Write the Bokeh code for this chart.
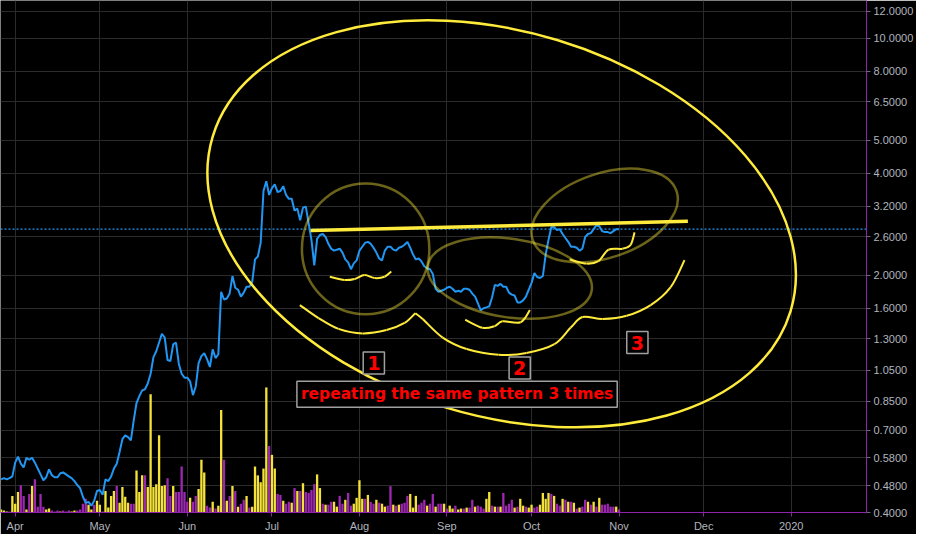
import numpy as np
import pandas as pd
from bokeh.plotting import figure
from bokeh.models import (Range1d, LinearScale, FixedTicker, NumeralTickFormatter,
                          Span, Label, ColumnDataSource)
from bokeh.embed import file_html
from bokeh.resources import INLINE

# daily closes, starting 2019-03-27
START = "2019-03-27"
price = [
    0.501, 0.505, 0.501, 0.505, 0.511, 0.561, 0.584, 0.557, 0.543, 0.580,
    0.572, 0.580, 0.561, 0.539, 0.518, 0.498, 0.508, 0.536, 0.515, 0.508,
    0.508, 0.522, 0.525, 0.518, 0.511, 0.505, 0.495, 0.482, 0.472, 0.445,
    0.427, 0.430, 0.419, 0.433, 0.463, 0.466, 0.451, 0.501, 0.495, 0.511,
    0.539, 0.557, 0.603, 0.658, 0.675, 0.667, 0.653, 0.746, 0.841, 0.881,
    0.916, 0.923, 0.960, 1.026, 1.148, 1.195, 1.268, 1.346, 1.311, 1.126,
    1.118, 1.252, 1.268, 1.096, 1.026, 0.999, 0.999, 0.973, 0.887, 0.941,
    1.103, 1.156, 1.179, 1.133, 1.074, 1.211, 1.141, 1.171, 1.790, 1.698,
    1.709, 1.767, 1.991, 1.839, 1.814, 1.732, 1.779, 1.851, 1.851, 1.913,
    2.229, 2.273, 2.494, 3.545, 3.790, 3.452, 3.616, 3.713, 3.521, 3.545,
    3.664, 3.452, 3.362, 3.362, 3.105, 3.146, 2.905, 3.167, 3.188, 2.848,
    2.545, 2.140, 2.561, 2.630, 2.648, 2.596, 2.478, 2.397, 2.365, 2.381,
    2.397, 2.334, 2.229, 2.185, 2.085, 2.170, 2.214, 2.365, 2.429, 2.494,
    2.511, 2.478, 2.413, 2.334, 2.243, 2.214, 2.365, 2.429, 2.429, 2.381,
    2.365, 2.413, 2.429, 2.462, 2.511, 2.413, 2.304, 2.229, 2.243, 2.199,
    2.127, 2.099, 2.085, 2.018, 1.826, 1.790, 1.802, 1.814, 1.839, 1.851,
    1.826, 1.790, 1.802, 1.790, 1.826, 1.826, 1.814, 1.767, 1.732, 1.654,
    1.578, 1.600, 1.610, 1.621, 1.721, 1.875, 1.863, 1.888, 1.851, 1.851,
    1.779, 1.755, 1.744, 1.665, 1.665, 1.687, 1.732, 1.814, 1.901, 2.031,
    1.978, 1.965, 1.991, 2.304, 2.545, 2.774, 2.774, 2.719, 2.737, 2.648,
    2.578, 2.511, 2.429, 2.429, 2.413, 2.365, 2.397, 2.596, 2.648, 2.665,
    2.737, 2.811, 2.792, 2.701, 2.683, 2.683, 2.665, 2.701, 2.737, 2.736,
]

volume = [
    3, 2, 1, 1, 17, 9, 21, 28, 17, 3,
    19, 27, 34, 6, 19, 6, 3, 4, 2, 1,
    2, 1, 2, 1, 2, 1, 2, 2, 3, 9,
    14, 8, 3, 8, 12, 8, 1, 22, 5, 17,
    22, 27, 10, 26, 16, 10, 9, 9, 43, 21,
    38, 38, 26, 121, 26, 29, 79, 27, 28, 35,
    17, 27, 21, 21, 47, 21, 11, 15, 11, 17,
    24, 54, 41, 7, 5, 11, 4, 7, 105, 54,
    12, 17, 27, 22, 6, 9, 13, 17, 5, 6,
    47, 38, 31, 45, 128, 68, 59, 45, 19, 18,
    12, 9, 11, 10, 25, 22, 22, 30,
    21, 20, 23, 29, 39, 25, 9, 8, 8, 11,
    11, 6, 17, 9, 13, 20, 7, 9, 15, 33,
    14, 14, 18, 11, 9, 13, 10, 9, 6, 7,
    27, 8, 7, 8, 9, 10, 17, 19, 5, 17,
    8, 10, 13, 7, 9, 19, 6, 9, 9, 9,
    4, 7, 4, 7, 3, 4, 4, 5, 5, 13,
    6, 7, 6, 4, 14, 21, 7, 6, 6, 6,
    20, 7, 9, 13, 5, 6, 14, 7, 6, 5,
    8, 5, 6, 8, 20, 14, 20, 19, 17, 9,
    7, 14, 13, 11, 11, 10, 4, 5, 6, 13,
    11, 8, 11, 6, 15, 8, 8, 9, 6, 6,
    6, 3,
]

# Y = yellow bar, P = purple bar
vol_side = (
    "YYYPYYYPPY" "PYPPPPYYPP" "PYPPPYYPPP" "PYYPYYPYYY" "YPYYYYPPYY"
    "YPYYYYYYYP" "PYPPPPPYPP" "YYYPPYPYYP" "YPYPYPPYPY" "YYYYYPYYPP"
    "YPPYPYPY"
    "PPPPYYPYPP" "YYPPYPPYYY" "YPYPPYPYYP" "PYPYPPPYYY" "PPPYPPYPPY"
    "PYYPYYPYPP" "YPPPYYPYPY" "PPPPYPYYPY" "YPPYYYYPYP" "PYPYPYPYPP"
    "YPYPYPPPPP" "YP"
)

y_ticks = [0.4, 0.48, 0.58, 0.7, 0.85, 1.05, 1.3, 1.6, 2.0, 2.6,
           3.2, 4.0, 5.0, 6.5, 8.0, 10.0, 12.0]
month_ticks = ["2019-04-01", "2019-05-01", "2019-06-01", "2019-07-01", "2019-08-01",
               "2019-09-01", "2019-10-01", "2019-11-01", "2019-12-01", "2020-01-01"]
month_labels = ["Apr", "May", "Jun", "Jul", "Aug", "Sep", "Oct", "Nov", "Dec", "2020"]
last_price = 2.736

# drawings (days after 2019-04-01, price)
trend_days, trend_price = [104.7, 238.4], [2.713, 2.886]
arc_a = ([111.5, 116.7, 120.3, 123.8, 127.4, 130.9, 133.3],
         [1.981, 1.938, 1.952, 2.004, 1.964, 1.981, 2.054])
arc_b1 = ([100.9, 107.5, 114.6, 123.1, 131.6, 138.0, 141.8],
          [1.635, 1.497, 1.391, 1.349, 1.380, 1.448, 1.547])
arc_b2 = ([141.8, 144.4, 151.5, 160.0, 171.3, 181.2, 191.1, 196.8, 201.1, 208.2,
           216.7, 225.2, 232.3, 237.2],
          [1.547, 1.487, 1.311, 1.213, 1.166, 1.181, 1.254, 1.401, 1.507, 1.487,
           1.520, 1.635, 1.847, 2.218])
arc_c = ([159.5, 165.6, 169.9, 172.7, 179.1, 182.4],
         [1.480, 1.401, 1.417, 1.464, 1.455, 1.581])
arc_d = ([196.5, 202.5, 206.7, 210.3, 215.2, 218.1, 219.5],
         [2.228, 2.166, 2.203, 2.381, 2.397, 2.461, 2.678])

DAY0 = pd.Timestamp("2019-04-01")
MS_DAY = 86400000.0


def at(d):
    return (DAY0 + pd.Timedelta(days=d)).value / 1e6


def bezier_pieces(days, prices):
    xs = [at(d) for d in days]
    ys = [np.log10(v) for v in prices]
    px = [xs[0]] + xs + [xs[-1]]
    py = [ys[0]] + ys + [ys[-1]]
    out = {k: [] for k in ("x0", "y0", "x1", "y1", "cx0", "cy0", "cx1", "cy1")}
    for j in range(len(xs) - 1):
        a, b = j + 1, j + 2
        out["x0"].append(px[a])
        out["y0"].append(10 ** py[a])
        out["x1"].append(px[b])
        out["y1"].append(10 ** py[b])
        out["cx0"].append(px[a] + (px[b] - px[a - 1]) / 6)
        out["cy0"].append(10 ** (py[a] + (py[b] - py[a - 1]) / 6))
        out["cx1"].append(px[b] - (px[b + 1] - px[a]) / 6)
        out["cy1"].append(10 ** (py[b] - (py[b + 1] - py[a]) / 6))
    return ColumnDataSource(out)


dates = pd.date_range(START, periods=len(price), freq="D")
colors = ["#f4e23a" if s == "Y" else "#9c27b0" for s in vol_side]

GRID = "#2b2b2b"
AXIS = "#8e24aa"
TXT = "#b2b5be"
YEL = "#ffeb3b"
SX, SY = 0.98, 0.97

p = figure(width=916, height=534, x_axis_type="datetime", y_axis_type="log",
           x_range=Range1d(at(-5.2), at(301.7)), y_range=Range1d(0.4, 12.92),
           y_axis_location="right", toolbar_location=None, output_backend="svg",
           background_fill_color="#000000", border_fill_color="#000000",
           min_border_left=0, min_border_top=0, min_border_right=0, min_border_bottom=0)
p.outline_line_color = None

p.extra_y_ranges = {"vol": Range1d(0, 524)}
p.extra_y_scales = {"vol": LinearScale()}

src = ColumnDataSource(dict(date=dates, volume=volume, color=colors, price=price))
p.vbar(x="date", top="volume", bottom=0, width=0.82 * MS_DAY, color="color",
       line_color=None, y_range_name="vol", source=src)

p.add_layout(Span(location=last_price, dimension="width", line_color="#2196f3",
                  line_dash="2 2", line_width=1.2, level="underlay"))
p.line(x="date", y="price", source=src, line_color="#2196f3", line_width=2)

# drawings
p.ellipse(x=[at(172.4)], y=[2.838], width=[616 * SX], height=[396 * SY],
          angle=[np.radians(-16.8)], width_units="screen", height_units="screen",
          fill_color=None, line_color=YEL, line_width=2.5)
p.ellipse(x=[at(124.2), at(175.3), at(208.9)], y=[2.394, 1.964, 3.003],
          width=[130 * SX, 169 * SX, 155 * SX], height=[135 * SY, 81 * SY, 87 * SY],
          angle=[0.0, np.radians(-8.5), np.radians(18.9)],
          width_units="screen", height_units="screen",
          fill_color=None, line_color=YEL, line_alpha=0.42, line_width=2.5)
p.line([at(d) for d in trend_days], trend_price, line_color=YEL, line_width=3.5)
for days, prices in (arc_a, arc_b1, arc_b2, arc_c, arc_d):
    p.bezier(x0="x0", y0="y0", x1="x1", y1="y1", cx0="cx0", cy0="cy0",
             cx1="cx1", cy1="cy1", source=bezier_pieces(days, prices),
             line_color=YEL, line_width=2)

box = dict(text_color="#ff0000", text_font="DejaVu Sans", text_font_style="bold",
           text_align="center", text_baseline="middle", background_fill_color="#000000",
           border_line_color="#a0a0a0", border_line_width=1.5, padding=4)
for txt, d, v, size in (("1", 127.1, 1.103, "19px"), ("2", 178.8, 1.067, "19px"),
                        ("3", 220.5, 1.268, "19px"),
                        ("repeating the same pattern 3 times", 156.6, 0.892, "15.5px")):
    p.add_layout(Label(x=at(d), y=v, text=txt, text_font_size=size, **box))

p.add_layout(Label(x=at(301.7), y=last_price, text="2.7360", x_offset=1,
                   text_align="left", text_baseline="middle", text_font="Liberation Sans",
                   text_font_size="11px", text_color="#d6ebff",
                   background_fill_color="#2196f3", padding=3))

# axes and grid
p.yaxis.ticker = FixedTicker(ticks=y_ticks)
p.yaxis.formatter = NumeralTickFormatter(format="0.0000")
p.xaxis.ticker = FixedTicker(ticks=[at((pd.Timestamp(m) - DAY0).days) for m in month_ticks])
p.xaxis.major_label_overrides = {at((pd.Timestamp(m) - DAY0).days): lab
                                 for m, lab in zip(month_ticks, month_labels)}
for ax in (p.xaxis, p.yaxis):
    ax.axis_line_color = AXIS
    ax.major_label_text_color = TXT
    ax.major_label_text_font = "Liberation Sans"
    ax.major_label_text_font_size = "11px"
    ax.minor_tick_line_color = None
    ax.major_tick_in = 0
    ax.major_tick_out = 4
    ax.major_label_standoff = 3
p.yaxis.major_tick_line_color = "#6a6d78"
p.xaxis.major_tick_line_color = AXIS
p.xgrid.grid_line_color = GRID
p.ygrid.grid_line_color = GRID

open("out.html", "w").write(file_html(p, INLINE))
